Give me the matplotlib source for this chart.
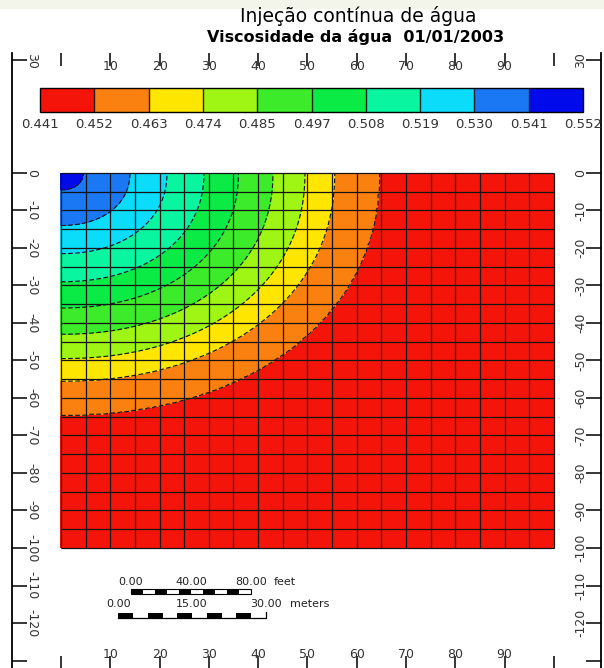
import numpy as np
import matplotlib
matplotlib.use('agg')
import matplotlib.pyplot as plt
from matplotlib.colors import ListedColormap, BoundaryNorm
from matplotlib.cm import ScalarMappable
from matplotlib.patches import Rectangle

plt.rcParams['font.family'] = ['DejaVu Sans']

# colour scale of the map
levels = [0.441, 0.452, 0.463, 0.474, 0.485, 0.497, 0.508, 0.519, 0.530, 0.541, 0.552]
level_labels = ['0.441', '0.452', '0.463', '0.474', '0.485', '0.497',
                '0.508', '0.519', '0.530', '0.541', '0.552']
colors = ['#f5140a', '#fa800f', '#ffe600', '#9ff514', '#3ceb2a',
          '#0aeb46', '#0af5a0', '#0adcfa', '#1a78f5', '#000aeb']

# viscosity read along the distance from the injector (top-left corner), m
iso_radius = [0, 4.5, 14, 21.5, 29, 36, 43, 49.5, 55.5, 64.5, 150]
iso_value = [0.548, 0.541, 0.530, 0.519, 0.508, 0.497, 0.485, 0.474, 0.463, 0.452, 0.444]

# grid blocks (m)
block_x = np.arange(0, 101, 5)
block_y = np.arange(-100, 1, 5)

x_ticks = list(range(0, 101, 10))
x_labels = [''] + [str(v) for v in range(10, 100, 10)] + ['']
y_ticks = [30] + list(range(0, -131, -10))
y_labels = ['30'] + [str(v) for v in range(0, -121, -10)] + ['']

feet_marks = [0, 40, 80]
meter_marks = [0, 15, 30]

title1 = 'Injeção contínua de água'
title2 = 'Viscosidade da água  01/01/2003'


def main():
    fig = plt.figure(figsize=(6.04, 6.68), dpi=100, facecolor='white')
    fig.add_artist(Rectangle((0, 1 - 8 / 668), 1, 8 / 668, transform=fig.transFigure,
                             color='#f3f5ea', zorder=0))

    ax = fig.add_axes([11.7 / 604, 0, 589 / 604, 615 / 668])
    ax.set_xlim(-10, 109.5)
    ax.set_ylim(-132, 32)

    xs = np.linspace(block_x[0], block_x[-1], 301)
    ys = np.linspace(block_y[0], block_y[-1], 301)
    X, Y = np.meshgrid(xs, ys)
    p = 2.15
    d = (np.abs(X) ** p + np.abs(Y) ** p) ** (1.0 / p)
    Z = np.interp(d, iso_radius, iso_value)

    ax.contourf(X, Y, Z, levels=levels, colors=colors, zorder=1)
    ax.contour(X, Y, Z, levels=levels[1:-1], colors='#1a1a1a',
               linewidths=0.85, linestyles=[(0, (4, 2))], zorder=2)
    ax.vlines(block_x, block_y[0], block_y[-1], colors='#141414', linewidth=0.9, zorder=3)
    ax.hlines(block_y, block_x[0], block_x[-1], colors='#141414', linewidth=0.9, zorder=3)

    for side in ['top', 'bottom']:
        ax.spines[side].set_visible(False)
    for side in ['left', 'right']:
        ax.spines[side].set_linewidth(1.3)

    ax.set_xticks(x_ticks)
    ax.set_xticklabels(x_labels)
    ax.set_yticks(y_ticks)
    ax.set_yticklabels(y_labels)
    ax.tick_params(axis='x', top=True, bottom=True, labeltop=True, labelbottom=True,
                   direction='in', length=9, width=1.1, pad=-14.5,
                   labelsize=9, labelcolor='#333333')
    ax.tick_params(axis='y', left=True, right=True, labelleft=True, labelright=True,
                   direction='in', length=11, width=1.1, pad=-19,
                   labelsize=9, labelcolor='#333333')
    for t in ax.yaxis.get_major_ticks():
        t.label1.set_rotation(270)
        t.label1.set_va('center')
        t.label2.set_rotation(90)
        t.label2.set_va('center')

    # scale bars
    ft = 0.3048
    fx0, fy0 = 14.2, -112.3
    seg = feet_marks[-1] * ft / 10
    ax.add_patch(Rectangle((fx0, fy0), feet_marks[-1] * ft, 1.4, facecolor='white',
                           edgecolor='black', linewidth=0.8, zorder=4))
    for i in range(0, 10, 2):
        ax.add_patch(Rectangle((fx0 + i * seg, fy0), seg, 1.4, facecolor='black',
                               edgecolor='none', zorder=5))
    for v in feet_marks:
        ax.text(fx0 + v * ft, -109.1, '%.2f' % v, ha='center', va='center',
                fontsize=8, color='#222222', zorder=6)
    ax.text(fx0 + feet_marks[-1] * ft + 4.5, -109.1, 'feet', ha='left', va='center',
            fontsize=8, color='#222222', zorder=6)

    mx0, my0 = 11.6, -118.6
    mseg = meter_marks[-1] / 10
    ax.plot([mx0, mx0 + meter_marks[-1], mx0 + meter_marks[-1]],
            [my0, my0, my0 + 1.5], color='black', linewidth=0.9, zorder=4)
    for i in range(0, 10, 2):
        ax.add_patch(Rectangle((mx0 + i * mseg, my0), mseg, 1.3, facecolor='black',
                               edgecolor='none', zorder=5))
    for v in meter_marks:
        ax.text(mx0 + v, -114.9, '%.2f' % v, ha='center', va='center',
                fontsize=8, color='#222222', zorder=6)
    ax.text(mx0 + meter_marks[-1] + 4.8, -114.9, 'meters', ha='left', va='center',
            fontsize=8, color='#222222', zorder=6)

    # colour bar
    cax = fig.add_axes([40 / 604, 1 - 112 / 668, 543 / 604, 24 / 668])
    sm = ScalarMappable(norm=BoundaryNorm(levels, len(colors)), cmap=ListedColormap(colors))
    cb = fig.colorbar(sm, cax=cax, orientation='horizontal', drawedges=True)
    cb.set_ticks(levels)
    cb.set_ticklabels(level_labels)
    cb.outline.set_linewidth(1.0)
    cb.dividers.set_color('#202020')
    cb.dividers.set_linewidth(1.0)
    cax.tick_params(length=0, pad=4, labelsize=9.5, labelcolor='#333333')

    fig.text(358 / 604, 1 - 16.5 / 668, title1, ha='center', va='center', fontsize=13.5)
    fig.text(356 / 604, 1 - 37 / 668, title2, ha='center', va='center', fontsize=11.5,
             fontweight='bold')

    fig.savefig('out.png', dpi=100, facecolor=fig.get_facecolor())


if __name__ == '__main__':
    main()
